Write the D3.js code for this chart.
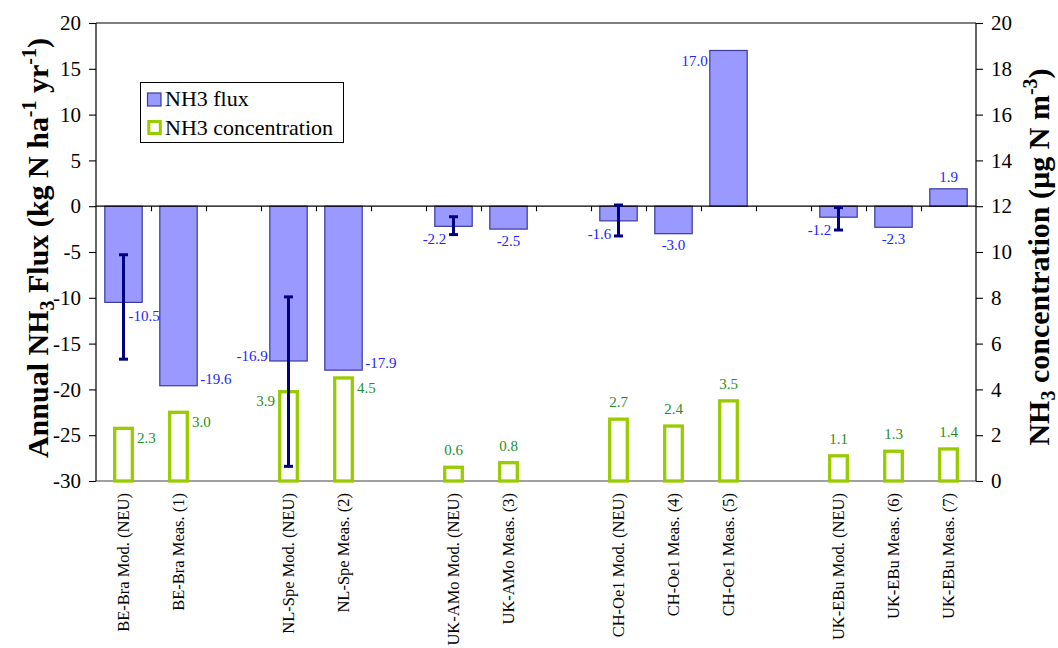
<!DOCTYPE html>
<html>
<head>
<meta charset="utf-8">
<script src="https://cdn.jsdelivr.net/npm/d3@7"></script>
<style>
  html, body { margin: 0; padding: 0; background: #fff; }
  svg { display: block; }
  svg text { font-family: "Liberation Serif", "Times New Roman", serif; }
</style>
</head>
<body>
<svg id="chart" width="1058" height="648"></svg>
<script>
// ---------- data ----------
const categories = ["BE-Bra Mod. (NEU)", "BE-Bra Meas. (1)", "", "NL-Spe Mod. (NEU)", "NL-Spe Meas. (2)", "",
  "UK-AMo Mod. (NEU)", "UK-AMo Meas. (3)", "", "CH-Oe1 Mod. (NEU)", "CH-Oe1 Meas. (4)", "CH-Oe1 Meas. (5)", "",
  "UK-EBu Mod. (NEU)", "UK-EBu Meas. (6)", "UK-EBu Meas. (7)"];
const flux = [-10.5, -19.6, null, -16.9, -17.9, null, -2.2, -2.5, null, -1.6, -3.0, 17.0, null, -1.2, -2.3, 1.9];
const conc = [2.3, 3.0, null, 3.9, 4.5, null, 0.6, 0.8, null, 2.7, 2.4, 3.5, null, 1.1, 1.3, 1.4];
const errLow  = [-16.7, null, null, -28.4, null, null, -3.1, null, null, -3.25, null, null, null, -2.6, null, null];
const errHigh = [-5.3,  null, null, -9.9,  null, null, -1.15, null, null, 0.13, null, null, null, -0.15, null, null];
// label placement keywords (Excel-like label positions)
const fluxLabelPos = ["rightBelow", "right", null, "left", "right", null, "belowLeft", "below", null,
  "belowLeft", "below", "left", null, "belowLeft", "below", "above"];
const concLabelPos = ["right", "right", null, "left", "right", null, "above", "above", null,
  "above", "above", "above", null, "above", "above", "above"];
const fluxTicks = [-30, -25, -20, -15, -10, -5, 0, 5, 10, 15, 20];
const concTicks = [0, 2, 4, 6, 8, 10, 12, 14, 16, 18, 20];
const legendLabels = ["NH3 flux", "NH3 concentration"];

// ---------- layout ----------
const FONT = "Liberation Serif";
const svg = d3.select("#chart");
const L = 96, R = 976, T = 23, B = 481;
const x = d3.scaleBand().domain(d3.range(categories.length)).range([L, R]).padding(0);
const bw = x.bandwidth();
const cx = i => x(i) + bw / 2;
const y1 = d3.scaleLinear().domain([-30, 20]).range([B, T]);
const y2 = d3.scaleLinear().domain([0, 20]).range([B, T]);

const fluxW = bw * 0.68, concW = bw * 0.32;
const fluxFill = "#9999ff", fluxStroke = "#3a3a9c";
const concStroke = "#99cc00";
const fluxText = "#2424ff", concText = "#1f8f1f";

// plot frame: top line black, bottom grey
svg.append("line").attr("x1", L).attr("x2", R).attr("y1", T).attr("y2", T).attr("stroke", "#000").attr("stroke-width", 1.2);
svg.append("line").attr("x1", L).attr("x2", R).attr("y1", B).attr("y2", B).attr("stroke", "#808080").attr("stroke-width", 1.5);

// flux bars
const idx = d3.range(categories.length);
svg.append("g").selectAll("rect").data(idx.filter(i => flux[i] != null)).join("rect")
  .attr("x", i => cx(i) - fluxW / 2)
  .attr("width", fluxW)
  .attr("y", i => Math.min(y1(0), y1(flux[i])))
  .attr("height", i => Math.abs(y1(flux[i]) - y1(0)))
  .attr("fill", fluxFill).attr("stroke", fluxStroke).attr("stroke-width", 1.2);

// concentration bars (outlined)
svg.append("g").selectAll("rect").data(idx.filter(i => conc[i] != null)).join("rect")
  .attr("x", i => cx(i) - concW / 2)
  .attr("width", concW)
  .attr("y", i => y2(conc[i]))
  .attr("height", i => y2(0) - y2(conc[i]))
  .attr("fill", "none").attr("stroke", concStroke).attr("stroke-width", 3.3);

// zero line
svg.append("line").attr("x1", L).attr("x2", R).attr("y1", y1(0)).attr("y2", y1(0)).attr("stroke", "#000").attr("stroke-width", 1.2);

// category ticks on zero line
const xb = d3.scaleLinear().domain([0, categories.length]).range([L, R]);
const xAxis = svg.append("g").attr("transform", `translate(0,${y1(0)})`)
  .call(d3.axisBottom(xb).tickValues(d3.range(1, categories.length)).tickSize(5).tickFormat(""));
xAxis.select(".domain").remove();
xAxis.selectAll(".tick line").attr("stroke", "#000").attr("stroke-width", 1.1);

// error bars
const eg = svg.append("g").attr("stroke", "#000080").attr("stroke-width", 3);
idx.filter(i => errLow[i] != null).forEach(i => {
  const c = cx(i);
  eg.append("line").attr("x1", c).attr("x2", c).attr("y1", y1(errHigh[i])).attr("y2", y1(errLow[i]));
  eg.append("line").attr("x1", c - 4.5).attr("x2", c + 4.5).attr("y1", y1(errHigh[i])).attr("y2", y1(errHigh[i]));
  eg.append("line").attr("x1", c - 4.5).attr("x2", c + 4.5).attr("y1", y1(errLow[i])).attr("y2", y1(errLow[i]));
});

// flux labels
const fmt = v => v.toFixed(1);
idx.filter(i => flux[i] != null).forEach(i => {
  const v = flux[i], p = fluxLabelPos[i], yy = y1(v);
  let tx = cx(i), ty = yy, anchor = "middle";
  if (p === "rightBelow") { tx = cx(i) + 5; ty = yy + 19; anchor = "start"; }
  else if (p === "right") { tx = cx(i) + fluxW / 2 + 3; ty = yy - 2; anchor = "start"; }
  else if (p === "left") { tx = cx(i) - fluxW / 2 - 2; ty = v < 0 ? yy : yy + 16; anchor = "end"; }
  else if (p === "below") { ty = yy + 16.5; }
  else if (p === "belowLeft") { tx = cx(i) - 19; ty = yy + 18; }
  else if (p === "above") { ty = yy - 7; }
  svg.append("text").attr("x", tx).attr("y", ty).attr("text-anchor", anchor)
    .attr("font-family", FONT).attr("font-size", 15).attr("fill", fluxText).text(fmt(v));
});

// concentration labels
idx.filter(i => conc[i] != null).forEach(i => {
  const v = conc[i], p = concLabelPos[i], yy = y2(v);
  let tx = cx(i), ty = yy - 12, anchor = "middle";
  if (p === "right") { tx = cx(i) + 13.5; ty = yy + 15; anchor = "start"; }
  else if (p === "left") { tx = cx(i) - 13.5; ty = yy + 14; anchor = "end"; }
  svg.append("text").attr("x", tx).attr("y", ty).attr("text-anchor", anchor)
    .attr("font-family", FONT).attr("font-size", 15).attr("fill", concText).text(fmt(v));
});

// left axis
const la = svg.append("g").attr("transform", `translate(${L},0)`)
  .call(d3.axisLeft(y1).tickValues(fluxTicks).tickSize(7).tickPadding(8).tickFormat(d => String(d)));
la.attr("font-family", FONT);
la.select(".domain").remove();
la.selectAll(".tick line").attr("stroke", "#000").attr("stroke-width", 1.1);
la.selectAll(".tick text").attr("font-size", 21).attr("font-family", FONT).attr("fill", "#000");
svg.append("line").attr("x1", L).attr("x2", L).attr("y1", T).attr("y2", B).attr("stroke", "#000").attr("stroke-width", 1.2);

// right axis
const ra = svg.append("g").attr("transform", `translate(${R},0)`)
  .call(d3.axisRight(y2).tickValues(concTicks).tickSize(7).tickPadding(8).tickFormat(d => String(d)));
ra.attr("font-family", FONT);
ra.select(".domain").remove();
ra.selectAll(".tick line").attr("stroke", "#000").attr("stroke-width", 1.1);
ra.selectAll(".tick text").attr("font-size", 21).attr("font-family", FONT).attr("fill", "#000");
svg.append("line").attr("x1", R).attr("x2", R).attr("y1", T).attr("y2", B).attr("stroke", "#000").attr("stroke-width", 1.2);

// category labels
svg.append("g").selectAll("text").data(idx.filter(i => categories[i] !== "")).join("text")
  .attr("transform", i => `translate(${cx(i) + 5.5},493) rotate(-90)`)
  .attr("text-anchor", "end").attr("font-family", FONT).attr("font-size", 16.5).attr("fill", "#000")
  .text(i => categories[i]);

// axis titles
function richTitle(g, parts) {
  const t = g.append("text").attr("font-family", FONT).attr("font-weight", "bold").attr("font-size", 30)
    .attr("text-anchor", "middle").attr("fill", "#000");
  parts.forEach(([s, kind]) => {
    const ts = t.append("tspan").text(s);
    if (kind === "sub") ts.attr("font-size", 20).attr("dy", 6);
    else if (kind === "sup") ts.attr("font-size", 20).attr("dy", -12);
    else if (kind === "subEnd") ts.attr("dy", -6);
    else if (kind === "supEnd") ts.attr("dy", 12);
  });
  return t;
}
const lt = svg.append("g").attr("transform", "translate(48,248) rotate(-90)");
richTitle(lt, [["Annual NH"], ["3", "sub"], [" Flux (kg N ha", "subEnd"], ["-1", "sup"], [" yr", "supEnd"], ["-1", "sup"], [")", "supEnd"]]);
const rt = svg.append("g").attr("transform", "translate(1049,257) rotate(-90)");
richTitle(rt, [["NH"], ["3", "sub"], [" concentration (\u00b5g N m", "subEnd"], ["-3", "sup"], [")", "supEnd"]]);

// legend
const lg = svg.append("g");
lg.append("rect").attr("x", 140.5).attr("y", 82.5).attr("width", 203).attr("height", 60)
  .attr("fill", "#fff").attr("stroke", "#000").attr("stroke-width", 1);
lg.append("rect").attr("x", 147.5).attr("y", 93).attr("width", 13.5).attr("height", 13)
  .attr("fill", fluxFill).attr("stroke", fluxStroke).attr("stroke-width", 1.2);
lg.append("rect").attr("x", 148.8).attr("y", 121.5).attr("width", 11.5).attr("height", 12)
  .attr("fill", "none").attr("stroke", concStroke).attr("stroke-width", 3);
lg.selectAll("text.lab").data(legendLabels).join("text").attr("class", "lab")
  .attr("x", 165).attr("y", (d, i) => 106 + i * 28.5).attr("font-family", FONT)
  .attr("font-size", 22).attr("fill", "#000").text(d => d);
</script>
</body>
</html>
